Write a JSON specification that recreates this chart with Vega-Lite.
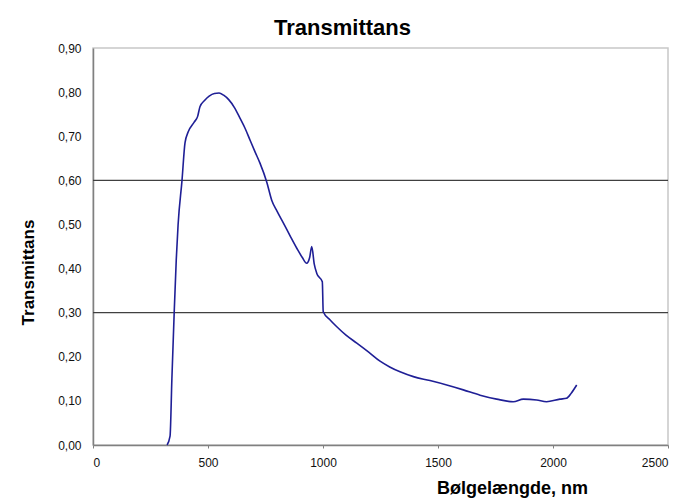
{
  "$schema": "https://vega.github.io/schema/vega-lite/v6.json",
  "autosize": "none",
  "width": 575,
  "height": 397,
  "padding": {"left": 93, "top": 48, "right": 17, "bottom": 53},
  "background": "white",
  "config": {
    "font": "Liberation Sans",
    "view": {"stroke": "#c8c8c8", "strokeWidth": 1.5}
  },
  "title": {
    "text": "Transmittans",
    "fontSize": 22,
    "fontWeight": "bold",
    "color": "black",
    "anchor": "middle",
    "frame": "group",
    "dx": -38,
    "offset": 2
  },
  "datasets": {
    "curve": [
      {"wl": 322, "t": 0.0},
      {"wl": 335, "t": 0.02},
      {"wl": 343, "t": 0.15},
      {"wl": 353, "t": 0.30},
      {"wl": 362, "t": 0.42},
      {"wl": 370, "t": 0.50},
      {"wl": 387, "t": 0.60},
      {"wl": 400, "t": 0.685},
      {"wl": 414, "t": 0.71},
      {"wl": 440, "t": 0.732},
      {"wl": 455, "t": 0.745},
      {"wl": 465, "t": 0.767},
      {"wl": 485, "t": 0.781},
      {"wl": 505, "t": 0.791},
      {"wl": 528, "t": 0.797},
      {"wl": 548, "t": 0.798},
      {"wl": 568, "t": 0.793},
      {"wl": 590, "t": 0.783},
      {"wl": 615, "t": 0.765},
      {"wl": 639, "t": 0.741},
      {"wl": 662, "t": 0.717},
      {"wl": 683, "t": 0.691},
      {"wl": 705, "t": 0.664},
      {"wl": 726, "t": 0.639},
      {"wl": 755, "t": 0.597},
      {"wl": 777, "t": 0.555},
      {"wl": 800, "t": 0.53},
      {"wl": 828, "t": 0.503},
      {"wl": 858, "t": 0.473},
      {"wl": 886, "t": 0.446},
      {"wl": 910, "t": 0.425},
      {"wl": 929, "t": 0.412},
      {"wl": 942, "t": 0.425},
      {"wl": 951, "t": 0.45},
      {"wl": 962, "t": 0.41},
      {"wl": 973, "t": 0.389},
      {"wl": 997, "t": 0.37},
      {"wl": 1001, "t": 0.302},
      {"wl": 1030, "t": 0.284},
      {"wl": 1060, "t": 0.268},
      {"wl": 1100, "t": 0.249},
      {"wl": 1147, "t": 0.231},
      {"wl": 1200, "t": 0.21},
      {"wl": 1248, "t": 0.19},
      {"wl": 1290, "t": 0.177},
      {"wl": 1335, "t": 0.166},
      {"wl": 1393, "t": 0.155},
      {"wl": 1465, "t": 0.146},
      {"wl": 1538, "t": 0.136},
      {"wl": 1610, "t": 0.125},
      {"wl": 1683, "t": 0.113},
      {"wl": 1755, "t": 0.104},
      {"wl": 1827, "t": 0.098},
      {"wl": 1871, "t": 0.104},
      {"wl": 1929, "t": 0.102},
      {"wl": 1972, "t": 0.098},
      {"wl": 2030, "t": 0.104},
      {"wl": 2059, "t": 0.106},
      {"wl": 2080, "t": 0.118},
      {"wl": 2103, "t": 0.136}
    ],
    "grid": [{"y": 0.3}, {"y": 0.6}]
  },
  "layer": [
    {
      "data": {"name": "grid"},
      "mark": {"type": "rule", "color": "#404040", "strokeWidth": 1.2},
      "encoding": {
        "y": {"field": "y", "type": "quantitative", "scale": {"domain": [0, 0.9]}}
      }
    },
    {
      "data": {"name": "curve"},
      "mark": {"type": "line", "color": "#1f1f96", "strokeWidth": 1.6, "interpolate": "monotone"},
      "encoding": {
        "x": {
          "field": "wl",
          "type": "quantitative",
          "scale": {"domain": [0, 2500], "nice": false},
          "axis": {
            "values": [0, 500, 1000, 1500, 2000, 2500],
            "format": "d",
            "grid": false,
            "domainColor": "#808080",
            "domainWidth": 1.5,
            "tickColor": "#808080",
            "tickSize": 3,
            "labelFontSize": 12,
            "labelColor": "#111",
            "labelPadding": 9,
            "title": "Bølgelængde, nm",
            "titleFontSize": 18,
            "titleFontWeight": "bold",
            "titleColor": "black",
            "titleX": 419,
            "titleY": 48,
            "titleAlign": "center",
            "titleBaseline": "alphabetic"
          }
        },
        "y": {
          "field": "t",
          "type": "quantitative",
          "scale": {"domain": [0, 0.9], "nice": false},
          "axis": {
            "values": [0, 0.1, 0.2, 0.3, 0.4, 0.5, 0.6, 0.7, 0.8, 0.9],
            "labelExpr": "replace(format(datum.value, '.2f'), '.', ',')",
            "grid": false,
            "ticks": false,
            "domainColor": "#808080",
            "domainWidth": 1.5,
            "labelFontSize": 12,
            "labelColor": "#111",
            "labelPadding": 12,
            "title": "Transmittans",
            "titleFontSize": 17,
            "titleFontWeight": "bold",
            "titleColor": "black",
            "titleX": -65,
            "titleY": 224,
            "titleAlign": "center",
            "titleBaseline": "middle",
            "titleAngle": -90
          }
        }
      }
    }
  ]
}
